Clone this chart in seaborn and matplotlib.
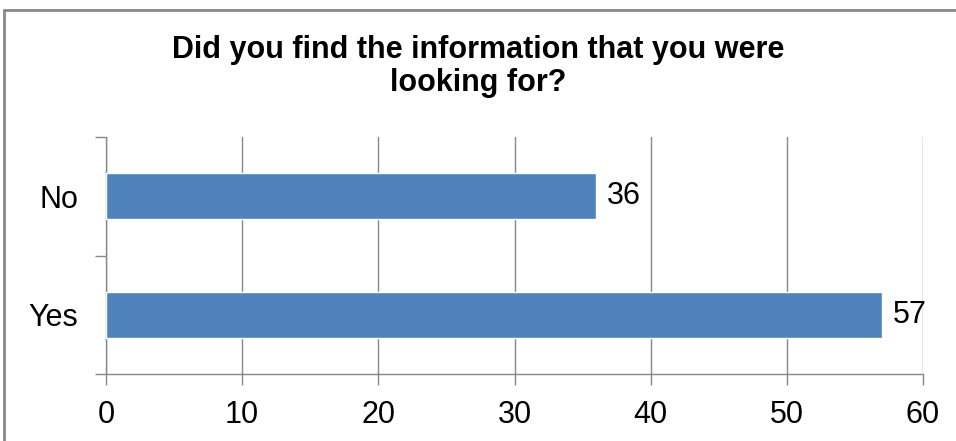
import matplotlib
matplotlib.use("Agg")
import matplotlib.pyplot as plt
from matplotlib.ticker import FixedLocator
import seaborn as sns
import pandas as pd

# Survey answers
answers = ["No", "Yes"]
counts = [36, 57]
x_ticks = [0, 10, 20, 30, 40, 50, 60]
title_lines = ["Did you find the information that you were", "looking for?"]

bar_color = "#4F81BD"
line_gray = "#888888"

sns.set_theme(style="white")
plt.rcParams["font.family"] = ["Liberation Sans", "DejaVu Sans"]

df = pd.DataFrame({"answer": answers, "count": counts})

fig = plt.figure(figsize=(9.56, 4.41), dpi=100)
W, H = 956, 441
ax = fig.add_axes([106 / W, (H - 374) / H, (923 - 106) / W, (374 - 137) / H])

sns.barplot(data=df, x="count", y="answer", order=answers, orient="h",
            color=bar_color, saturation=1, width=0.39, ax=ax, zorder=3)

ax.set_xlim(0, 60)
ax.set_ylim(1.5, -0.5)
ax.set_xlabel("")
ax.set_ylabel("")

ax.xaxis.set_major_locator(FixedLocator(x_ticks))
ax.set_xticklabels([str(t) for t in x_ticks])
ax.grid(axis="x", color=line_gray, linewidth=1, zorder=0)
ax.grid(axis="y", visible=False)

# category boundaries carry the y tick marks, labels sit between them
ax.yaxis.set_minor_locator(FixedLocator([-0.5, 0.5, 1.5]))
ax.tick_params(axis="y", which="major", length=0, pad=20, labelsize=22, labelcolor="black")
ax.tick_params(axis="y", which="minor", length=8, width=1, color=line_gray, direction="out", left=True)
ax.tick_params(axis="x", which="major", length=8, width=1, color=line_gray, direction="out",
               bottom=True, pad=11, labelsize=22, labelcolor="black")

for side in ["top", "right"]:
    ax.spines[side].set_visible(False)
for side in ["left", "bottom"]:
    ax.spines[side].set_visible(True)
    ax.spines[side].set_color(line_gray)
    ax.spines[side].set_linewidth(1)

for container in ax.containers:
    ax.bar_label(container, labels=[str(v) for v in counts], padding=8,
                 fontsize=22, color="black")

# two-line bold title, each line placed on its own baseline
for line, base_px in zip(title_lines, [58, 91]):
    fig.text(0.5, 1 - base_px / H, line, ha="center", va="baseline", fontsize=22,
             fontweight="bold", color="black")

# chart frame (top and left edges)
fig.add_artist(plt.Line2D([4 / W, 1], [1 - 9.5 / H, 1 - 9.5 / H], transform=fig.transFigure,
                          color=line_gray, linewidth=2))
fig.add_artist(plt.Line2D([4 / W, 4 / W], [0, 1 - 9.5 / H], transform=fig.transFigure,
                          color=line_gray, linewidth=2))

fig.savefig("out.png", dpi=100)
